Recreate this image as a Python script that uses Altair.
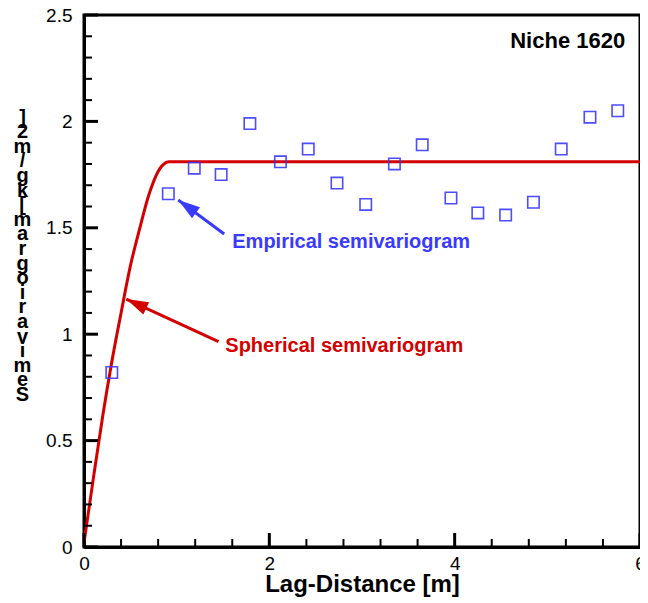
import altair as alt
import pandas as pd

# ---- data ----
emp_lag = [0.30, 0.91, 1.19, 1.48, 1.79, 2.12, 2.42, 2.73, 3.04, 3.35,
           3.65, 3.96, 4.25, 4.55, 4.85, 5.15, 5.46, 5.76]
emp_gamma = [0.82, 1.66, 1.78, 1.75, 1.99, 1.81, 1.87, 1.71, 1.61, 1.80,
             1.89, 1.64, 1.57, 1.56, 1.62, 1.87, 2.02, 2.05]

sph_lag = [0.0, 0.1, 0.2, 0.3, 0.4, 0.5, 0.6, 0.7, 0.8, 0.88, 0.92, 6.0]
sph_gamma = [0.02, 0.32, 0.61, 0.87, 1.10, 1.32, 1.495, 1.655, 1.765, 1.805, 1.81, 1.81]

x_major = [0, 2, 4, 6]
y_major = [0, 0.5, 1, 1.5, 2, 2.5]
x_minor = [0.4, 0.8, 1.2, 1.6, 2.4, 2.8, 3.2, 3.6, 4.4, 4.8, 5.2, 5.6]
y_minor = [0.1, 0.2, 0.3, 0.4, 0.6, 0.7, 0.8, 0.9, 1.1, 1.2, 1.3, 1.4,
           1.6, 1.7, 1.8, 1.9, 2.1, 2.2, 2.3, 2.4]

y_title = "Semivariogram [kg/m2]"
x_title = "Lag-Distance [m]"
panel_label = "Niche 1620"
emp_label = "Empirical semivariogram"
sph_label = "Spherical semivariogram"

# annotation anchors (data units)
emp_text_at = (1.60, 1.435)
sph_text_at = (1.525, 0.945)
panel_at = (5.84, 2.378)
emp_arrow = (1.513, 1.471, 1.017, 1.631)   # tail x, tail y, tip x, tip y
sph_arrow = (1.452, 0.965, 0.456, 1.165)

BLUE = "#3a3aff"
RED = "#d40000"
FONT = "Liberation Sans"

xs = alt.Scale(domain=[0, 6], nice=False, zero=False)
ys = alt.Scale(domain=[0, 2.5], nice=False, zero=False)

emp_df = pd.DataFrame({"lag": emp_lag, "gamma": emp_gamma})
sph_df = pd.DataFrame({"lag": sph_lag, "gamma": sph_gamma})

x_axis = alt.Axis(values=x_major, format="d", labelFontSize=19, labelPadding=7,
                  labelColor="#000000", labelFont=FONT, ticks=False, tickSize=0,
                  domainWidth=3, domainColor="black", grid=False,
                  title=x_title, titleFontSize=24, titleFontWeight="bold",
                  titleFont=FONT, titleColor="black", titleY=37,
                  titleBaseline="middle", labelFlush=False)
y_axis = alt.Axis(values=y_major, format="~g", labelFontSize=19, labelPadding=12,
                  labelColor="#000000", labelFont=FONT, ticks=False, tickSize=0,
                  domainWidth=3, domainColor="black", grid=False,
                  title=list(reversed(list(y_title))), titleAngle=0,
                  titleFontSize=20, titleFontWeight="bold", titleFont=FONT,
                  titleColor="black", titleLineHeight=14.6, titleX=-62, titleY=92,
                  titleBaseline="top", titleAlign="center", labelFlush=False)


def X(field):
    return alt.X(field, scale=xs, axis=x_axis)


def Y(field):
    return alt.Y(field, scale=ys, axis=y_axis)


line = alt.Chart(sph_df).mark_line(color=RED, strokeWidth=3, interpolate="monotone").encode(
    x=X("lag:Q"), y=Y("gamma:Q"),
)

pts = alt.Chart(emp_df).mark_point(shape="square", filled=False, size=130,
                                   color=BLUE, strokeWidth=1.6, opacity=0.9).encode(
    x=X("lag:Q"), y=Y("gamma:Q"),
)


def ticks_y(vals, size, thick):
    return alt.Chart(pd.DataFrame({"v": vals})).mark_tick(
        orient="horizontal", size=size, thickness=thick, color="black",
        xOffset=size / 2, opacity=1).encode(
        x=alt.datum(0, scale=xs, axis=x_axis), y=Y("v:Q"))


def ticks_x(vals, size, thick):
    return alt.Chart(pd.DataFrame({"v": vals})).mark_tick(
        orient="vertical", size=size, thickness=thick, color="black",
        yOffset=-size / 2, opacity=1).encode(
        y=alt.datum(0, scale=ys, axis=y_axis), x=X("v:Q"))


arrows_df = pd.DataFrame({
    "x": [emp_arrow[0], sph_arrow[0]], "y": [emp_arrow[1], sph_arrow[1]],
    "x2": [emp_arrow[2], sph_arrow[2]], "y2": [emp_arrow[3], sph_arrow[3]],
    "c": ["emp", "sph"], "ang": [306, 295],
})
cscale = alt.Scale(domain=["emp", "sph"], range=[BLUE, RED])

shafts = alt.Chart(arrows_df).mark_rule(strokeWidth=3).encode(
    x=X("x:Q"), y=Y("y:Q"), x2="x2:Q", y2="y2:Q",
    color=alt.Color("c:N", scale=cscale, legend=None))

heads = alt.Chart(arrows_df).mark_point(
    shape="M0,0 L0.62,2 L-0.62,2 Z", filled=True, size=484, opacity=1).encode(
    x=X("x2:Q"), y=Y("y2:Q"),
    angle=alt.Angle("ang:Q", scale=None),
    color=alt.Color("c:N", scale=cscale, legend=None))

text_df = pd.DataFrame({
    "x": [emp_text_at[0], sph_text_at[0]], "y": [emp_text_at[1], sph_text_at[1]],
    "t": [emp_label, sph_label], "c": ["emp", "sph"],
})
labels = alt.Chart(text_df).mark_text(align="left", baseline="middle", fontSize=20,
                                      fontWeight="bold", font=FONT).encode(
    x=X("x:Q"), y=Y("y:Q"),
    text="t:N", color=alt.Color("c:N", scale=cscale, legend=None))

panel = alt.Chart(pd.DataFrame({"x": [panel_at[0]], "y": [panel_at[1]], "t": [panel_label]})).mark_text(
    align="right", baseline="middle", fontSize=22, fontWeight="bold", font=FONT,
    color="black").encode(x=X("x:Q"), y=Y("y:Q"), text="t:N")

chart = alt.layer(
    line, pts,
    ticks_y(y_major, 14, 3), ticks_y(y_minor, 8, 2),
    ticks_x(x_major, 14, 3), ticks_x(x_minor, 8, 2),
    shafts, heads, labels, panel,
).properties(
    width=556, height=532,
    autosize=alt.AutoSizeParams(type="none"),
    padding={"left": 76, "top": 7, "right": 0, "bottom": 50},
    background="white",
).configure_view(
    stroke="black", strokeWidth=3
)

chart.save("out.html", embed_options={"renderer": "svg", "actions": False})
